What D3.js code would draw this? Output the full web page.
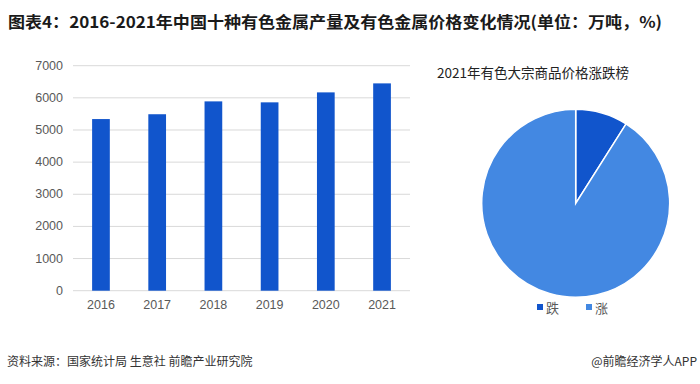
<!DOCTYPE html>
<html>
<head>
<meta charset="utf-8">
<script src="https://cdn.jsdelivr.net/npm/d3@7"></script>
<style>
  body { margin: 0; background: #fff; }
  svg { display: block; font-family: "Liberation Sans", "Noto Sans CJK SC", sans-serif; }
</style>
</head>
<body>
<div id="chart"></div>
<script>
// bar chart data: output of ten nonferrous metals (万吨)
var years = ["2016", "2017", "2018", "2019", "2020", "2021"];
var output = [5340, 5490, 5890, 5860, 6170, 6450];
var yTicks = [0, 1000, 2000, 3000, 4000, 5000, 6000, 7000];

// pie data: price up / down share
var pieLabels = ["跌", "涨"];
var pieValues = [9, 91];
var pieColors = ["#1155cc", "#4388e2"];

var width = 700, height = 384;
var svg = d3.select("#chart").append("svg")
  .attr("width", width)
  .attr("height", height);

// title
svg.append("text")
  .attr("x", 8).attr("y", 28)
  .attr("font-family", "Noto Sans CJK SC")
  .attr("font-weight", "bold")
  .attr("font-size", 16)
  .attr("fill", "#1a1a1a")
  .attr("textLength", 654)
  .attr("lengthAdjust", "spacingAndGlyphs")
  .text("图表4：2016-2021年中国十种有色金属产量及有色金属价格变化情况(单位：万吨，%)");

// ---- bar chart ----
var x = d3.scaleBand().domain(years).range([73, 410]).paddingInner(0.685).paddingOuter(0.34);
var y = d3.scaleLinear().domain([0, 7000]).range([290.7, 65.7]);

svg.append("g").selectAll("line")
  .data(yTicks)
  .enter().append("line")
  .attr("x1", 73).attr("x2", 410)
  .attr("y1", d => y(d)).attr("y2", d => y(d))
  .attr("stroke", "#d9d9d9")
  .attr("stroke-width", 1);

svg.append("g").selectAll("text")
  .data(yTicks)
  .enter().append("text")
  .attr("x", 63).attr("y", d => y(d))
  .attr("text-anchor", "end")
  .attr("dominant-baseline", "central")
  .attr("font-size", 12.5)
  .attr("fill", "#595959")
  .text(d => d);

svg.append("g").selectAll("rect")
  .data(output)
  .enter().append("rect")
  .attr("x", (d, i) => x(years[i]))
  .attr("y", d => y(d))
  .attr("width", x.bandwidth())
  .attr("height", d => y(0) - y(d))
  .attr("fill", "#1155cc");

svg.append("g").selectAll("text")
  .data(years)
  .enter().append("text")
  .attr("x", d => x(d) + x.bandwidth() / 2)
  .attr("y", 305)
  .attr("text-anchor", "middle")
  .attr("dominant-baseline", "central")
  .attr("font-size", 12.5)
  .attr("fill", "#595959")
  .text(d => d);

// ---- pie chart ----
svg.append("text")
  .attr("x", 437).attr("y", 77.5)
  .attr("font-family", "Noto Sans CJK SC")
  .attr("font-size", 13.5)
  .attr("fill", "#222")
  .text("2021年有色大宗商品价格涨跌榜");

var pie = d3.pie().sort(null)(pieValues);
var arc = d3.arc().innerRadius(0).outerRadius(94);

svg.append("g")
  .attr("transform", "translate(575.7,203.3)")
  .selectAll("path")
  .data(pie)
  .enter().append("path")
  .attr("d", arc)
  .attr("fill", (d, i) => pieColors[i])
  .attr("stroke", "#fff")
  .attr("stroke-width", 1.5);

// legend
var legend = svg.append("g").selectAll("g")
  .data(pieLabels)
  .enter().append("g")
  .attr("transform", (d, i) => "translate(" + (537 + i * 49) + ",307)");
legend.append("rect")
  .attr("x", 0).attr("y", -3)
  .attr("width", 6).attr("height", 6)
  .attr("fill", (d, i) => pieColors[i]);
legend.append("text")
  .attr("x", 9).attr("y", 0)
  .attr("dominant-baseline", "central")
  .attr("font-family", "Noto Sans CJK SC")
  .attr("font-size", 13)
  .attr("fill", "#595959")
  .text(d => d);

// footer
svg.append("text")
  .attr("x", 7).attr("y", 360)
  .attr("dominant-baseline", "central")
  .attr("font-family", "Noto Sans CJK SC")
  .attr("font-size", 12)
  .attr("fill", "#333")
  .text("资料来源：国家统计局 生意社 前瞻产业研究院");
svg.append("text")
  .attr("x", 697).attr("y", 360)
  .attr("text-anchor", "end")
  .attr("dominant-baseline", "central")
  .attr("font-family", "Noto Sans CJK SC")
  .attr("font-size", 12)
  .attr("fill", "#333")
  .text("@前瞻经济学人APP");
</script>
</body>
</html>
